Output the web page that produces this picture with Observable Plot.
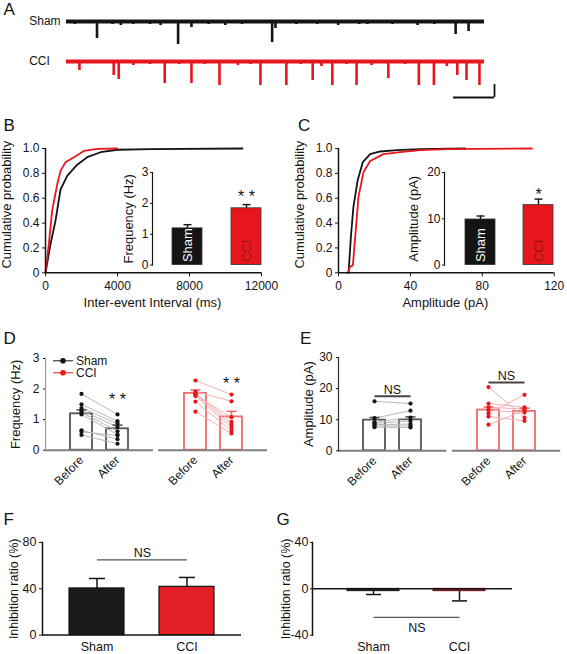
<!DOCTYPE html>
<html>
<head>
<meta charset="utf-8">
<script src="https://cdn.jsdelivr.net/npm/d3@7"></script>
<script src="https://cdn.jsdelivr.net/npm/@observablehq/plot@0.6"></script>
<style>
  html, body { margin: 0; padding: 0; background: #fff; overflow: hidden; }
  #root { position: relative; width: 567px; height: 654px; background: #fff; overflow: hidden; }
  #root svg { pointer-events: none; }
</style>
</head>
<body>
<div id="root"></div>
<script>
// ---------------- DATA ----------------
// Panel A: example traces (time in % of sweep, amplitude in pA-like units, downward events)
const traceNames = ["Sham", "CCI"];
const traceDuration = 100;
const shamSpikeTime = [2, 7.3, 11, 13, 16, 20, 22.5, 26.7, 29.9, 34, 38, 42, 49.2, 50, 55, 60, 65, 70, 72, 78, 84, 88, 93.1, 96.2];
const shamSpikeAmp  = [3, 17, 3, 4, 3, 3, 4, 23, 6, 3, 4, 3, 21, 7, 3, 3, 4, 3, 3, 3, 4, 3, 13, 10];
const cciSpikeTime = [3.1, 6, 11.3, 12.5, 16, 20, 23.5, 27, 29.9, 33, 36.6, 41, 44, 46.4, 52.6, 56, 58.9, 61, 63.6, 67, 69.4, 73, 77, 81, 84.3, 87.9, 91, 93.5, 95.7, 98.8];
const cciSpikeAmp  = [9, 2, 14, 18, 4, 3, 22, 3, 22, 3, 24, 4, 3, 24, 24, 3, 19, 5, 24, 3, 24, 4, 17, 3, 24, 24, 5, 14, 19, 24];
const scaleBarTime = [92.6, 102.4];
const scaleBarAmp = [-36, -23];

// Panel B: cumulative inter-event interval
const ieiShamMs = [0, 278, 556, 835, 1206, 1762, 2318, 3060, 3988, 5843, 10945];
const ieiShamP  = [0, 0.23, 0.42, 0.67, 0.78, 0.87, 0.93, 0.97, 0.99, 0.995, 1.0];
const ieiCciMs  = [0, 185, 371, 649, 835, 1113, 1577, 2133, 2875, 3988];
const ieiCciP   = [0, 0.23, 0.5, 0.71, 0.82, 0.89, 0.93, 0.98, 0.997, 1.0];
const groups = ["Sham", "CCI"];
const freqMean = [1.19, 1.84];
const freqSem = [0.12, 0.12];
const freqStars = ["", "* *"];
const freqStarY = 2.22;

// Panel C: cumulative amplitude
const ampShamPA = [5.6, 6.9, 8.3, 10.6, 13.5, 17.6, 23.2, 32.5, 45.4, 70.5];
const ampShamP  = [0, 0.29, 0.53, 0.74, 0.89, 0.955, 0.976, 0.987, 0.995, 1.0];
const ampCciPA  = [5.2, 6.5, 8.0, 9.3, 11.1, 13.9, 17.6, 25, 34.3, 45.4, 60, 107.6];
const ampCciP   = [0, 0.05, 0.06, 0.29, 0.61, 0.81, 0.9, 0.955, 0.97, 0.987, 0.995, 1.0];
const ampMean = [9.85, 12.95];
const ampSem = [0.75, 1.3];
const ampStars = ["", "*"];
const ampStarY = 15.1;

// Panel D: frequency before / after
const phases = ["Before", "After"];
const dShamBefore = [1.84, 1.50, 1.38, 1.30, 1.24, 1.17, 0.65, 0.60, 0.50];
const dShamAfter  = [1.17, 0.95, 0.87, 0.76, 0.62, 0.51, 0.36, 0.48, 0.21];
const dCciBefore  = [2.28, 1.92, 1.86, 1.82, 1.77, 1.59, 1.26, 1.80];
const dCciAfter   = [1.82, 1.60, 0.93, 0.84, 0.74, 0.64, 0.55, 1.08];
const dShamMean = [1.19, 0.70];
const dShamSem  = [0.13, 0.12];
const dCciMean  = [1.86, 1.09];
const dCciSem   = [0.11, 0.18];
const dShamStarY = 1.66;
const dCciStarY = 2.17;

// Panel E: amplitude before / after
const eShamBefore = [15.9, 10.5, 9.2, 8.8, 8.4, 8.0, 7.6];
const eShamAfter  = [15.2, 12.9, 10.7, 9.6, 8.6, 8.0, 7.5];
const eCciBefore  = [20.5, 15.2, 14.0, 13.0, 12.0, 11.0, 8.4];
const eCciAfter   = [10.7, 14.0, 13.4, 12.3, 18.0, 9.6, 13.0];
const eShamMean = [9.86, 9.96];
const eShamSem  = [0.85, 0.95];
const eCciMean  = [13.1, 12.65];
const eCciSem   = [1.0, 1.05];
const eShamNS = {line: 17.5, text: 19.6};
const eCciNS = {line: 22.0, text: 24.1};

// Panel F: inhibition ratio of frequency
const inhibFreqMean = [40.3, 41.7];
const inhibFreqSem = [8.6, 8.1];
const fNS = {line: 65, text: 70.5};

// Panel G: inhibition ratio of amplitude
const inhibAmpMean = [-2, -2];
const inhibAmpSem = [2.9, 8.4];
const gNS = {line: -24.7, text: -34.2};

// ---------------- STYLE ----------------
const FONT = "'Liberation Sans', Arial, Helvetica, sans-serif";
const BLACK = "#141414";
const RED = "#e8161c";
const root = document.getElementById("root");
const fmt = d => String(d);

const capSymbol = {
  draw(ctx, size) {
    const r = Math.sqrt(size / Math.PI);
    ctx.moveTo(-r, 0);
    ctx.lineTo(r, 0);
  }
};

function place(frame, opts) {
  const pad = 60;
  const width = frame.x1 - frame.x0 + 2 * pad;
  const height = frame.y1 - frame.y0 + 2 * pad;
  const svg = Plot.plot({
    ...opts,
    width, height,
    marginLeft: pad, marginRight: pad, marginTop: pad, marginBottom: pad,
    style: {fontFamily: FONT, fontSize: "12px", background: "transparent", overflow: "visible", color: BLACK}
  });
  svg.style.position = "absolute";
  svg.style.left = (frame.x0 - pad) + "px";
  svg.style.top = (frame.y0 - pad) + "px";
  svg.style.maxWidth = "none";
  svg.style.height = height + "px";
  root.appendChild(svg);
  return svg;
}

function yTitle(text, dx, dy = 0, size = 13) {
  return Plot.text([text], {text: d => d, frameAnchor: "left", rotate: -90, dx, dy,
    lineAnchor: "middle", textAnchor: "middle", fontSize: size, fill: BLACK});
}
function xTitle(text, dx, dy, size = 13) {
  return Plot.text([text], {text: d => d, frameAnchor: "bottom", dx, dy,
    lineAnchor: "middle", textAnchor: "middle", fontSize: size, fill: BLACK});
}
function leftAxisLine(color, width) {
  return Plot.frame({anchor: "left", stroke: color, strokeWidth: width});
}

// ---------------- BACKGROUND (panel letters, legend) ----------------
const bg = d3.create("svg").attr("width", 567).attr("height", 654)
  .style("position", "absolute").style("left", "0px").style("top", "0px")
  .style("font-family", FONT);
const letters = [["A", 3.5, 15], ["B", 3.5, 130.5], ["C", 298, 130.5], ["D", 3.5, 343.5],
                 ["E", 300, 343.5], ["F", 3.5, 525], ["G", 276.5, 525]];
bg.selectAll("text.letter").data(letters).join("text").attr("class", "letter")
  .attr("x", d => d[1]).attr("y", d => d[2]).attr("font-size", 17).attr("fill", BLACK).text(d => d[0]);
// legend for panel D
const legend = bg.append("g").attr("transform", "translate(53,360.8)");
[[BLACK, "Sham"], [RED, "CCI"]].forEach(([c, t], i) => {
  const g = legend.append("g").attr("transform", `translate(0,${i * 12})`);
  g.append("line").attr("x1", 0).attr("x2", 20).attr("stroke", c).attr("stroke-width", 1);
  g.append("circle").attr("cx", 10).attr("r", 2.8).attr("fill", c);
  g.append("text").attr("x", 23).attr("y", 4.2).attr("font-size", 12).attr("fill", BLACK).text(t);
});
root.appendChild(bg.node());

// ---------------- PANEL A ----------------
function tracePlot(frame, yDomain, times, amps, color, name, extra = []) {
  const ev = times.map((t, i) => ({t, a: amps[i]}));
  place(frame, {
    x: {domain: [0, 102.4], axis: null},
    y: {domain: yDomain, axis: null},
    marks: [
      Plot.ruleY([0], {x1: 0, x2: traceDuration, stroke: color, strokeWidth: 4.2}),
      Plot.ruleX(ev, {x: "t", y1: 0, y2: d => -d.a, stroke: color, strokeWidth: 2.6}),
      Plot.text([name], {x: 0, y: 0, text: d => d, textAnchor: "start", dx: -37.3, lineAnchor: "middle", fontSize: 12, fill: BLACK}),
      ...extra
    ]
  });
}
tracePlot({x0: 66, x1: 494, y0: 15, y1: 50}, [-29, 6], shamSpikeTime, shamSpikeAmp, BLACK, traceNames[0]);
tracePlot({x0: 66, x1: 494, y0: 55, y1: 100}, [-39, 6], cciSpikeTime, cciSpikeAmp, RED, traceNames[1], [
  Plot.ruleY([scaleBarAmp[0]], {x1: scaleBarTime[0], x2: scaleBarTime[1], stroke: BLACK, strokeWidth: 1.8}),
  Plot.ruleX([scaleBarTime[1]], {y1: scaleBarAmp[0], y2: scaleBarAmp[1], stroke: BLACK, strokeWidth: 1.8})
]);

// ---------------- CUMULATIVE + INSET helper ----------------
function cumPanel(frame, xDomain, xTicks, shamX, shamY, cciX, cciY, xLabel, titleDx) {
  const sham = shamX.map((x, i) => ({x, y: shamY[i]}));
  const cci = cciX.map((x, i) => ({x, y: cciY[i]}));
  place(frame, {
    x: {domain: xDomain},
    y: {domain: [0, 1]},
    marks: [
      Plot.line(sham, {x: "x", y: "y", stroke: BLACK, strokeWidth: 1.8}),
      Plot.line(cci, {x: "x", y: "y", stroke: RED, strokeWidth: 1.8}),
      Plot.ruleY([0], {stroke: BLACK, strokeWidth: 1.5}),
      Plot.ruleX([xDomain[0]], {stroke: BLACK, strokeWidth: 1.5}),
      Plot.axisX({ticks: xTicks, tickSize: 4, tickPadding: 5, tickFormat: fmt, label: null, fontSize: 12}),
      Plot.axisY({ticks: [0, 0.2, 0.4, 0.6, 0.8, 1.0], tickSize: 3, tickPadding: 3,
        tickFormat: d => d === 0 ? "0" : d.toFixed(1), label: null, fontSize: 12}),
      yTitle("Cumulative probability", titleDx, -6),
      xTitle(xLabel, -1, 29.7)
    ]
  });
}
function insetPanel(frame, yMax, yTicks, mean, sem, stars, starY, title, titleDx, align) {
  const rows = groups.map((g, i) => ({g, m: mean[i], s: sem[i], star: stars[i]}));
  place(frame, {
    x: {type: "band", domain: groups, paddingInner: 0.49, paddingOuter: 0.2, align, axis: null},
    y: {domain: [0, yMax]},
    marks: [
      Plot.barY(rows, {x: "g", y: "m", fill: d => d.g === "Sham" ? BLACK : RED, stroke: "#333", strokeWidth: 0.8}),
      Plot.ruleX(rows, {x: "g", y1: "m", y2: d => d.m + d.s, stroke: BLACK, strokeWidth: 1.4}),
      Plot.dot(rows, {x: "g", y: d => d.m + d.s, r: 4, symbol: capSymbol, fill: "none", stroke: BLACK, strokeWidth: 1.4}),
      Plot.text(rows, {x: "g", y: 0, text: "g", rotate: -90, textAnchor: "start", lineAnchor: "middle", dy: -3, fontSize: 13,
        fill: d => d.g === "Sham" ? "#ffffff" : "#9a1414"}),
      Plot.text(rows, {x: "g", y: () => starY, text: "star", fontSize: 16, lineAnchor: "middle", fill: BLACK}),
      leftAxisLine(BLACK, 1.2),
      Plot.axisY({ticks: yTicks, tickSize: 2, tickPadding: 2, tickFormat: fmt, label: null, fontSize: 12}),
      yTitle(title, titleDx, 0, 13)
    ]
  });
}

// ---------------- PANEL B ----------------
cumPanel({x0: 45, x1: 261, y0: 147.7, y1: 272}, [0, 12000], [0, 4000, 8000, 12000],
  ieiShamMs, ieiShamP, ieiCciMs, ieiCciP, "Inter-event Interval (ms)", -38.5);
insetPanel({x0: 151.7, x1: 265, y0: 171.7, y1: 264.3}, 3, [0, 1, 2, 3], freqMean, freqSem, freqStars, freqStarY,
  "Frequency (Hz)", -23.7, 0.83);

// ---------------- PANEL C ----------------
cumPanel({x0: 338.3, x1: 554, y0: 147.7, y1: 272}, [0, 120], [0, 40, 80, 120],
  ampShamPA, ampShamP, ampCciPA, ampCciP, "Amplitude (pA)", -38.3);
insetPanel({x0: 444, x1: 556, y0: 171.7, y1: 264.3}, 20, [0, 10, 20], ampMean, ampSem, ampStars, ampStarY,
  "Amplitude (pA)", -30.7, 0.87);

// ---------------- PANELS D & E ----------------
function pairedPanel(frame, yMax, yTicks, before, after, mean, sem, color, barStroke, linkColor, opts) {
  const pairs = before.map((b, i) => ({b, a: after[i]}));
  const pts = [...before.map(v => ({p: "Before", v})), ...after.map(v => ({p: "After", v}))];
  const bars = phases.map((p, i) => ({p, m: mean[i], s: sem[i]}));
  const marks = [
    Plot.barY(bars, {x: "p", y: "m", fill: "white", stroke: barStroke, strokeWidth: 1.8}),
    Plot.link(pairs, {x1: () => "Before", x2: () => "After", y1: "b", y2: "a", stroke: linkColor, strokeWidth: 1}),
    Plot.ruleX(bars, {x: "p", y1: "m", y2: d => d.m + d.s, stroke: barStroke, strokeWidth: 1.6}),
    Plot.dot(bars, {x: "p", y: d => d.m + d.s, r: 5, symbol: capSymbol, fill: "none", stroke: barStroke, strokeWidth: 1.6}),
    Plot.dot(pts, {x: "p", y: "v", r: 2.1, fill: color}),
    Plot.ruleY([0], {stroke: "#808080", strokeWidth: 2}),
    Plot.axisX({tickRotate: -45, tickSize: 0, tickPadding: 8, label: null, fontSize: 12})
  ];
  if (opts.axis) {
    marks.push(leftAxisLine(opts.axisColor, 1.2));
    marks.push(Plot.axisY({ticks: yTicks, tickSize: 2, tickPadding: 4, tickFormat: fmt, label: null, fontSize: 12}));
    marks.push(yTitle(opts.title, -30, 0, 13));
  }
  if (opts.starY != null) {
    marks.push(Plot.text(["* *"], {x: () => "After", y: () => opts.starY, text: d => d, fontSize: 16, lineAnchor: "middle", fill: BLACK}));
  }
  if (opts.ns) {
    marks.push(Plot.link([opts.ns], {x1: () => "Before", x2: () => "After", y1: "line", y2: "line", stroke: "#444", strokeWidth: 2}));
    marks.push(Plot.text([opts.ns], {x: () => "Before", y: "text", text: () => "NS", dx: 18, fontSize: 12.5, lineAnchor: "middle", fill: BLACK}));
  }
  place(frame, {
    x: {type: "band", domain: phases, paddingInner: 0.39, paddingOuter: 0.69, align: 0.5},
    y: {domain: [0, yMax], axis: opts.axis ? undefined : null},
    marks
  });
}
pairedPanel({x0: 45, x1: 153, y0: 358.3, y1: 450}, 3, [0, 1, 2, 3], dShamBefore, dShamAfter, dShamMean, dShamSem,
  BLACK, "#555555", "#b8b8b8", {axis: true, axisColor: "#9a9a9a", title: "Frequency (Hz)", starY: dShamStarY});
pairedPanel({x0: 158, x1: 267, y0: 358.3, y1: 450}, 3, [0, 1, 2, 3], dCciBefore, dCciAfter, dCciMean, dCciSem,
  RED, "#ef6a6a", "#f6b0b0", {axis: false, starY: dCciStarY});
pairedPanel({x0: 338.3, x1: 446.7, y0: 356.7, y1: 450}, 30, [0, 10, 20, 30], eShamBefore, eShamAfter, eShamMean, eShamSem,
  BLACK, "#555555", "#b8b8b8", {axis: true, axisColor: "#333333", title: "Amplitude (pA)", ns: eShamNS});
pairedPanel({x0: 451.7, x1: 560, y0: 356.7, y1: 450}, 30, [0, 10, 20, 30], eCciBefore, eCciAfter, eCciMean, eCciSem,
  RED, "#ef6a6a", "#f6b0b0", {axis: false, ns: eCciNS});

// ---------------- PANEL F ----------------
{
  const rows = groups.map((g, i) => ({g, m: inhibFreqMean[i], s: inhibFreqSem[i]}));
  place({x0: 41.7, x1: 240.7, y0: 541.7, y1: 634.3}, {
    x: {type: "band", domain: groups, paddingInner: 0.39, paddingOuter: 0.294, align: 0.5},
    y: {domain: [0, 80]},
    marks: [
      Plot.barY(rows, {x: "g", y: "m", fill: d => d.g === "Sham" ? "#1a1a1a" : "#e31e24", stroke: BLACK, strokeWidth: 1.2}),
      Plot.ruleX(rows, {x: "g", y1: "m", y2: d => d.m + d.s, stroke: BLACK, strokeWidth: 1.5}),
      Plot.dot(rows, {x: "g", y: d => d.m + d.s, r: 8, symbol: capSymbol, fill: "none", stroke: BLACK, strokeWidth: 1.5}),
      Plot.link([fNS], {x1: () => "Sham", x2: () => "CCI", y1: "line", y2: "line", stroke: "#555", strokeWidth: 1.3}),
      Plot.text([fNS], {x: () => "Sham", y: "text", dx: 45.5, text: () => "NS", fontSize: 12.5, lineAnchor: "middle", fill: BLACK}),
      Plot.ruleY([0], {stroke: BLACK, strokeWidth: 1.5}),
      leftAxisLine(BLACK, 1.5),
      Plot.axisX({tickSize: 0, tickPadding: 7, label: null, fontSize: 12.5}),
      Plot.axisY({ticks: [0, 40, 80], tickSize: 3, tickPadding: 3, tickFormat: fmt, label: null, fontSize: 12.5}),
      yTitle("Inhibition ratio (%)", -29, 0, 12.5)
    ]
  });
}

// ---------------- PANEL G ----------------
{
  const rows = groups.map((g, i) => ({g, m: inhibAmpMean[i], s: inhibAmpSem[i]}));
  place({x0: 311.7, x1: 511.7, y0: 542.3, y1: 635}, {
    x: {type: "band", domain: groups, paddingInner: 0.4, paddingOuter: 0.35, align: 0.556},
    y: {domain: [-40, 40]},
    marks: [
      Plot.barY(rows, {x: "g", y: "m", fill: d => d.g === "Sham" ? "#1a1a1a" : "#8b1c1c", stroke: d => d.g === "Sham" ? "#1a1a1a" : "#6e1414", strokeWidth: 1}),
      Plot.ruleX(rows, {x: "g", y1: "m", y2: d => d.m - d.s, stroke: BLACK, strokeWidth: 1.5}),
      Plot.dot(rows, {x: "g", y: d => d.m - d.s, r: 7.5, symbol: capSymbol, fill: "none", stroke: BLACK, strokeWidth: 1.5}),
      Plot.link([gNS], {x1: () => "Sham", x2: () => "CCI", y1: "line", y2: "line", stroke: "#555", strokeWidth: 1.3}),
      Plot.text([gNS], {x: () => "Sham", y: "text", dx: 43.5, text: () => "NS", fontSize: 12.5, lineAnchor: "middle", fill: BLACK}),
      Plot.ruleY([0], {stroke: BLACK, strokeWidth: 1.5}),
      leftAxisLine(BLACK, 1.5),
      Plot.axisX({tickSize: 0, tickPadding: 6.5, label: null, fontSize: 12.5}),
      Plot.axisY({ticks: [-40, 0, 40], tickSize: 2, tickPadding: 2, tickFormat: fmt, label: null, fontSize: 12.5}),
      yTitle("Inhibition ratio (%)", -26.7, 0, 12.5)
    ]
  });
}
</script>
</body>
</html>
